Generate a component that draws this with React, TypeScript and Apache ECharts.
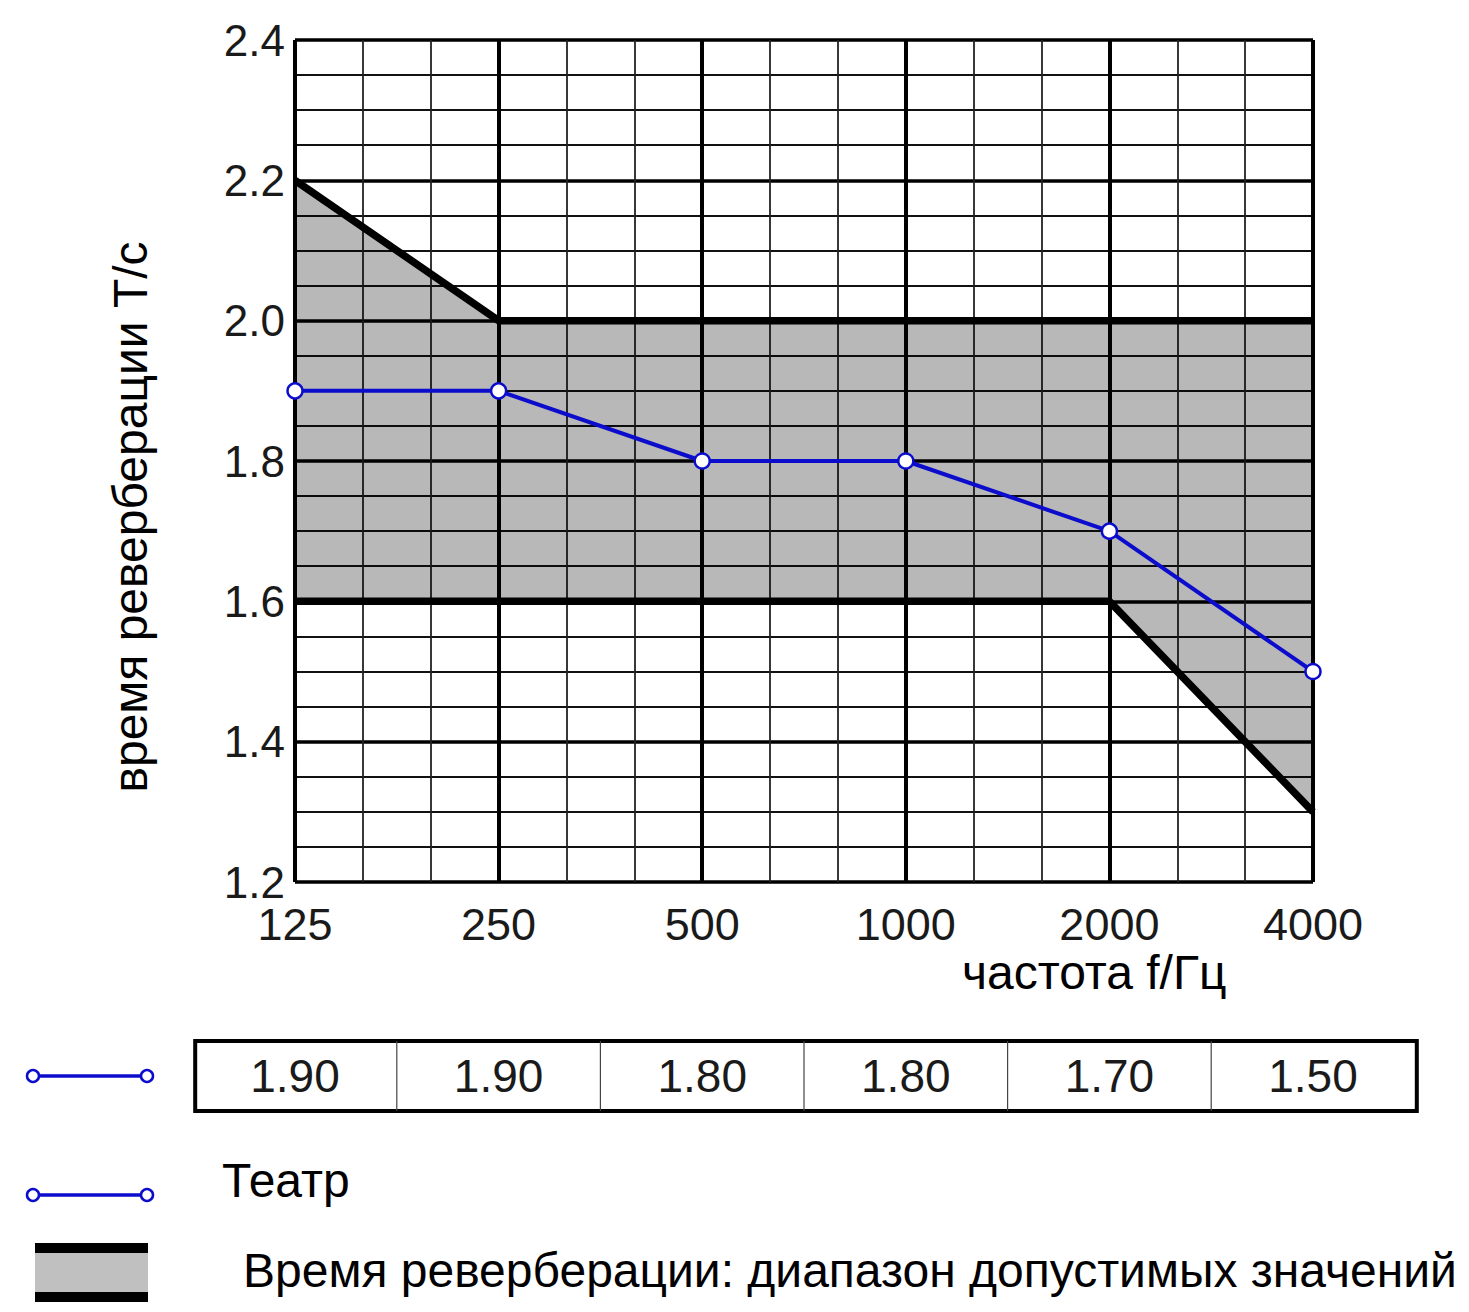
import React, { useEffect, useRef } from "react";
import * as echarts from "echarts";

const categories = ["125", "250", "500", "1000", "2000", "4000"];
const theatre = [1.9, 1.9, 1.8, 1.8, 1.7, 1.5];
const upperBound = [2.2, 2.0, 2.0, 2.0, 2.0, 2.0];
const lowerBound = [1.6, 1.6, 1.6, 1.6, 1.6, 1.3];
const yTicks = [1.2, 1.4, 1.6, 1.8, 2.0, 2.2, 2.4];

const FONT = "'Liberation Sans', Arial, sans-serif";
const BLUE = "#0c0ccc";

const GRID = { left: 295, top: 40, width: 1018, height: 842 };

export default function App() {
  const ref = useRef<HTMLDivElement>(null);
  useEffect(() => {
    if (!ref.current) return;
    const chart = echarts.init(ref.current, undefined, { renderer: "svg" });
    const step = GRID.width / (categories.length - 1);
    const tableTop = 1041;
    const tableH = 70;
    const tableLeft = GRID.left - step / 2;
    const graphics: any[] = [];
    graphics.push({
      type: "rect",
      shape: { x: tableLeft + 2, y: tableTop, width: step * categories.length, height: tableH },
      style: { fill: "#fff", stroke: "#000", lineWidth: 4 },
    });
    for (let i = 1; i < categories.length; i++) {
      graphics.push({
        type: "line",
        shape: { x1: tableLeft + i * step, y1: tableTop, x2: tableLeft + i * step, y2: tableTop + tableH },
        style: { stroke: "#444", lineWidth: 1.2 },
      });
    }
    theatre.forEach((v, i) => {
      graphics.push({
        type: "text",
        x: GRID.left + i * step,
        y: tableTop + tableH / 2,
        style: { text: v.toFixed(2), font: `46px ${FONT}`, fill: "#1a1a1a", align: "center", verticalAlign: "middle" },
      });
    });
    const legendLine = (y: number) => [
      { type: "line", shape: { x1: 39, y1: y, x2: 141, y2: y }, style: { stroke: BLUE, lineWidth: 3.5 } },
      { type: "circle", shape: { cx: 33, cy: y, r: 6 }, style: { fill: "#fff", stroke: BLUE, lineWidth: 2.5 } },
      { type: "circle", shape: { cx: 147, cy: y, r: 6 }, style: { fill: "#fff", stroke: BLUE, lineWidth: 2.5 } },
    ];
    graphics.push(...legendLine(1076));
    graphics.push(...legendLine(1195));
    graphics.push({ type: "rect", shape: { x: 35, y: 1243, width: 113, height: 59 }, style: { fill: "#c0c0c0" } });
    graphics.push({ type: "rect", shape: { x: 35, y: 1243, width: 113, height: 10 }, style: { fill: "#000" } });
    graphics.push({ type: "rect", shape: { x: 35, y: 1292, width: 113, height: 10 }, style: { fill: "#000" } });
    graphics.push({
      type: "text",
      x: 222,
      y: 1180,
      style: { text: "Театр", font: `48px ${FONT}`, fill: "#000", align: "left", verticalAlign: "middle" },
    });
    graphics.push({
      type: "text",
      x: 243,
      y: 1270,
      style: {
        text: "Время реверберации: диапазон допустимых значений",
        font: `48px ${FONT}`,
        fill: "#000",
        align: "left",
        verticalAlign: "middle",
      },
    });
    graphics.push({
      type: "text",
      x: 962,
      y: 972,
      style: { text: "частота f/Гц", font: `48px ${FONT}`, fill: "#000", align: "left", verticalAlign: "middle" },
    });
    graphics.push({
      type: "text",
      x: 130,
      y: 517,
      rotation: Math.PI / 2,
      style: {
        text: "время реверберации T/с",
        font: `48px ${FONT}`,
        fill: "#000",
        align: "center",
        verticalAlign: "middle",
      },
    });

    const bandDiff = upperBound.map((u, i) => +(u - lowerBound[i]).toFixed(3));

    chart.setOption({
      animation: false,
      backgroundColor: "#fff",
      grid: { ...GRID, containLabel: false },
      xAxis: [
        {
          type: "category",
          data: categories,
          boundaryGap: false,
          axisLine: { show: false },
          axisTick: { show: false },
          splitLine: { show: false },
          axisLabel: { fontSize: 45, lineHeight: 40, fontFamily: FONT, color: "#1a1a1a", margin: 22 },
        },
        {
          type: "value",
          min: 0,
          max: categories.length - 1,
          interval: 1,
          axisLine: { show: false },
          axisTick: { show: false },
          axisLabel: { show: false },
          splitLine: { show: true, lineStyle: { color: "#000", width: 4 } },
          minorTick: { show: false, splitNumber: 3 },
          minorSplitLine: { show: true, lineStyle: { color: "#222", width: 1.8 } },
        },
      ],
      yAxis: {
        type: "value",
        min: 1.2,
        max: 2.4,
        interval: 0.2,
        axisLine: { show: false },
        axisTick: { show: false },
        axisLabel: {
          fontSize: 44,
          lineHeight: 34,
          fontFamily: FONT,
          color: "#1a1a1a",
          margin: 10,
          formatter: (v: number) => {
            const t = yTicks.find((x) => Math.abs(x - v) < 1e-6);
            return t !== undefined ? t.toFixed(1) : "";
          },
        },
        splitLine: { show: true, lineStyle: { color: "#000", width: 3.5 } },
        minorTick: { show: false, splitNumber: 4 },
        minorSplitLine: { show: true, lineStyle: { color: "#111", width: 1.8 } },
      },
      series: [
        {
          type: "line",
          name: "lower",
          xAxisIndex: 0,
          data: lowerBound,
          stack: "band",
          symbol: "none",
          lineStyle: { color: "#000", width: 7.5 },
          z: 3,
        },
        {
          type: "line",
          name: "band",
          xAxisIndex: 0,
          data: bandDiff,
          stack: "band",
          symbol: "none",
          lineStyle: { color: "#000", width: 7.5 },
          areaStyle: { color: "rgba(0,0,0,0.28)", opacity: 1 },
          z: 3,
        },
        {
          type: "line",
          name: "Театр",
          xAxisIndex: 0,
          data: theatre,
          symbol: "circle",
          symbolSize: 15,
          lineStyle: { color: BLUE, width: 4 },
          itemStyle: { color: "#fff", borderColor: BLUE, borderWidth: 2.5 },
          z: 5,
        },
      ],
      graphic: graphics,
    });
    return () => chart.dispose();
  }, []);
  return (
    <div
      ref={ref}
      style={{ position: "absolute", left: 0, top: 0, width: 1469, height: 1312, background: "#fff" }}
    />
  );
}
